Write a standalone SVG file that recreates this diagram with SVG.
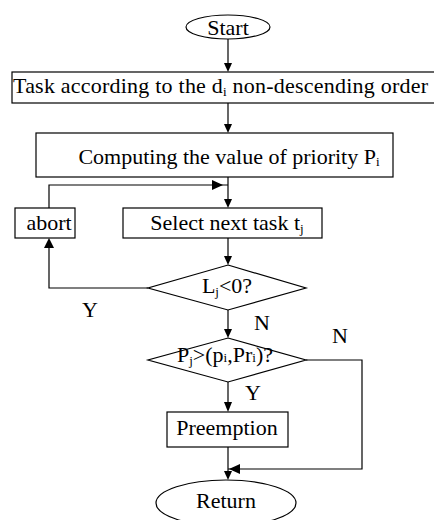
<svg xmlns="http://www.w3.org/2000/svg" width="434" height="520" viewBox="0 0 434 520">
<style>
.s{fill:#fff;stroke:#000;stroke-width:1.2}
.l{fill:none;stroke:#000;stroke-width:1.2}
.h{fill:#000;stroke:none}
text{font-family:"Liberation Serif","Times New Roman",serif;font-size:22px;fill:#000}
.c{text-anchor:middle}
.sub{font-size:13px}
</style>
<rect width="434" height="520" fill="#fff"/>
<g id="connectors">
<path class="l" d="M228 39V64"/><polygon class="h" points="224,63 232,63 228,72"/>
<path class="l" d="M228 103V125"/><polygon class="h" points="224,124 232,124 228,133"/>
<path class="l" d="M228 177V200"/><polygon class="h" points="224,199 232,199 228,208"/>
<path class="l" d="M49 208V185H228"/><polygon class="h" points="212,180 212,190 223,185"/>
<path class="l" d="M148 288H49V248"/><polygon class="h" points="44,248 54,248 49,238"/>
<path class="l" d="M228 238V257"/><polygon class="h" points="224,256 232,256 228,265"/>
<path class="l" d="M228 310V330"/><polygon class="h" points="224,329 232,329 228,338"/>
<path class="l" d="M228 382V403"/><polygon class="h" points="224,402 232,402 228,412"/>
<path class="l" d="M306 360H362V469H228"/><polygon class="h" points="240,464 240,474 229,469"/>
<path class="l" d="M228 447V472"/><polygon class="h" points="224,471 232,471 228,480"/>
</g>
<g id="start"><ellipse class="s" cx="228" cy="27" rx="42" ry="12"/><text class="c" x="228" y="35">Start</text></g>
<g id="task"><rect class="s" x="12" y="72" width="430" height="31"/><text x="13" y="93" textLength="415" lengthAdjust="spacing">Task according to the d<tspan class="sub" dy="3">i</tspan><tspan dy="-3"> non-descending order</tspan></text></g>
<g id="compute"><rect class="s" x="36" y="133" width="357" height="44"/><text class="c" x="229" y="164">Computing the value of priority P<tspan class="sub" dy="2">i</tspan></text></g>
<g id="abort"><rect class="s" x="15" y="208" width="60" height="30"/><text class="c" x="49" y="230">abort</text></g>
<g id="select"><rect class="s" x="123" y="208" width="199" height="30"/><text class="c" x="227" y="230">Select next task t<tspan class="sub" dy="3">j</tspan></text></g>
<g id="check"><polygon class="s" points="228,265 306,288 228,310 148,288"/><text class="c" x="227" y="293">L<tspan class="sub" dy="3">j</tspan><tspan dy="-3">&lt;0?</tspan></text></g>
<g id="compare"><polygon class="s" points="228,338 306,360 228,382 148,360"/><text class="c" x="225" y="362">P<tspan class="sub" dy="3">j</tspan><tspan dy="-3">&gt;(p</tspan><tspan class="sub">i</tspan><tspan>,Pr</tspan><tspan class="sub">i</tspan><tspan>)?</tspan></text></g>
<g id="preemption"><rect class="s" x="167" y="412" width="121" height="35"/><text class="c" x="227" y="435">Preemption</text></g>
<g id="return"><ellipse class="s" cx="226" cy="503" rx="70" ry="23"/><text class="c" x="226" y="508">Return</text></g>
<g id="labels">
<text x="82" y="317">Y</text>
<text x="254" y="330">N</text>
<text x="332" y="343">N</text>
<text x="245" y="400">Y</text>
</g>
</svg>
